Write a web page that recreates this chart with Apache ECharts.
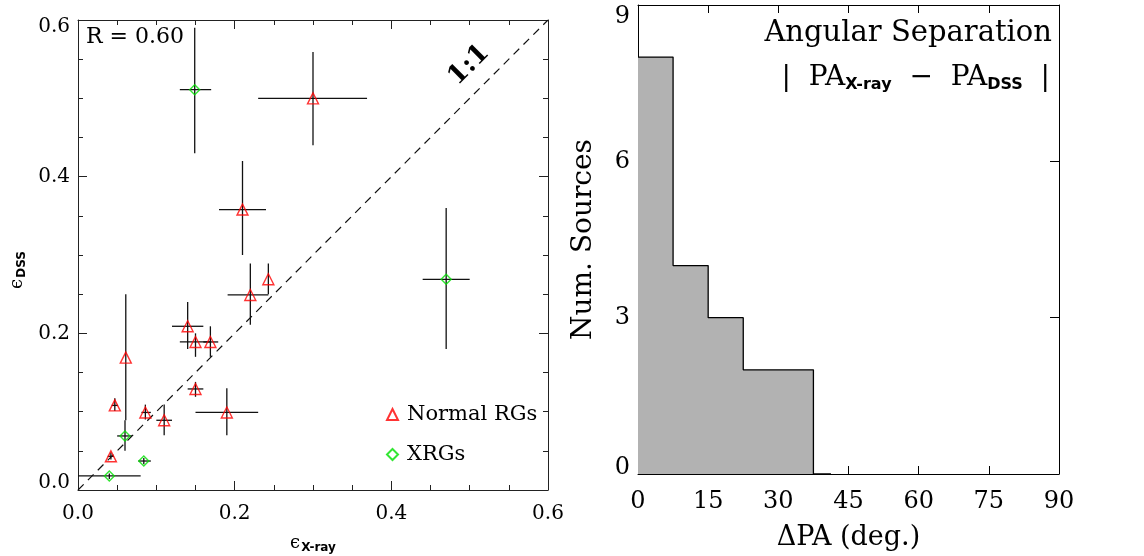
<!DOCTYPE html>
<html>
<head>
<meta charset="utf-8">
<title>Ellipticity and position angle</title>
<script src="https://cdn.jsdelivr.net/npm/echarts@6/dist/echarts.min.js"></script>
<style>
    html, body { margin: 0; padding: 0; background: #fff; }
    #chart { width: 1144px; height: 556px; }
</style>
</head>
<body>
<div id="chart"></div>
<script>
// rows: eX, eDSS, xLo, xHi, yLo, yHi
var normalRGs = [
    [0.300, 0.500, 0.230, 0.369, 0.440, 0.559],
    [0.210, 0.358, 0.180, 0.240, 0.300, 0.420],
    [0.243, 0.269, 0.243, 0.243, 0.250, 0.289],
    [0.220, 0.249, 0.191, 0.243, 0.211, 0.289],
    [0.140, 0.209, 0.120, 0.160, 0.180, 0.240],
    [0.150, 0.189, 0.130, 0.170, 0.170, 0.200],
    [0.169, 0.189, 0.160, 0.179, 0.170, 0.209],
    [0.150, 0.129, 0.140, 0.160, 0.119, 0.138],
    [0.190, 0.099, 0.150, 0.230, 0.070, 0.130],
    [0.110, 0.089, 0.100, 0.120, 0.070, 0.109],
    [0.086, 0.099, 0.081, 0.093, 0.090, 0.109],
    [0.047, 0.108, 0.043, 0.051, 0.101, 0.117],
    [0.061, 0.169, 0.061, 0.061, 0.089, 0.250],
    [0.042, 0.043, 0.038, 0.046, 0.039, 0.048]
]
var xrgs = [
    [0.149, 0.511, 0.130, 0.170, 0.430, 0.590],
    [0.470, 0.269, 0.440, 0.500, 0.180, 0.360],
    [0.060, 0.069, 0.050, 0.069, 0.050, 0.089],
    [0.084, 0.037, 0.077, 0.093, 0.033, 0.041],
    [0.040, 0.018, 0.000, 0.080, 0.014, 0.021]
]
var oneToOne = [[0, 0], [0.6, 0.6]]

// histogram of |PA_X-ray - PA_DSS|, bins start at these edges
var paBinStart = [0, 7.5, 15, 22.5, 30, 37.5, 41.25]
var paCounts = [8, 4, 3, 2, 2, 0, 0]

var serif = 'DejaVu Serif'
var chart = echarts.init(document.getElementById('chart'))

var errorBars = function(rows) {
    return {
        type: 'custom',
        xAxisIndex: 0,
        yAxisIndex: 0,
        silent: true,
        z: 2,
        data: rows,
        encode: {x: 0, y: 1},
        renderItem: function(params, api) {
            var xl = api.coord([api.value(2), api.value(1)])
            var xh = api.coord([api.value(3), api.value(1)])
            var yl = api.coord([api.value(0), api.value(4)])
            var yh = api.coord([api.value(0), api.value(5)])
            var st = {stroke: '#111', lineWidth: 1.3}
            return {
                type: 'group',
                children: [
                    {type: 'line', shape: {x1: xl[0], y1: xl[1], x2: xh[0], y2: xh[1]}, style: st},
                    {type: 'line', shape: {x1: yl[0], y1: yl[1], x2: yh[0], y2: yh[1]}, style: st}
                ]
            }
        }
    }
}

// shifts the end labels inward, like the original plot
var edgeLabels = function(min, max, fmt) {
    return function(v) {
        var s = fmt(v)
        if (v === max) return '{hi|' + s + '}'
        if (v === min) return '{lo|' + s + '}'
        return s
    }
}

var eFmt = function(v) { return v.toFixed(1) }
var intFmt = function(v) { return String(Math.round(v)) }

var leftX = function(pos, show) {
    return {
        type: 'value', gridIndex: 0, position: pos, min: 0, max: 0.6, interval: 0.2,
        axisLine: {onZero: false, lineStyle: {color: '#222', width: 1}},
        axisTick: {inside: true, length: 9, lineStyle: {color: '#222'}},
        minorTick: {show: true, splitNumber: 4, length: 5, lineStyle: {color: '#222'}},
        splitLine: {show: false},
        axisLabel: {show: show, formatter: eFmt, margin: 14, color: '#000', fontFamily: serif, fontSize: 20}
    }
}
var leftY = function(pos, show) {
    return {
        type: 'value', gridIndex: 0, position: pos, min: 0, max: 0.6, interval: 0.2,
        axisLine: {onZero: false, lineStyle: {color: '#222', width: 1}},
        axisTick: {inside: true, length: 9, lineStyle: {color: '#222'}},
        minorTick: {show: true, splitNumber: 4, length: 5, lineStyle: {color: '#222'}},
        splitLine: {show: false},
        axisLabel: {
            show: show, margin: 8, color: '#000', fontFamily: serif, fontSize: 20,
            formatter: edgeLabels(0, 0.6, eFmt),
            rich: {
                hi: {fontFamily: serif, fontSize: 20, padding: [14, 0, 0, 0]},
                lo: {fontFamily: serif, fontSize: 20, padding: [0, 0, 14, 0]}
            }
        }
    }
}
var rightX = function(pos, show) {
    return {
        type: 'value', gridIndex: 1, position: pos, min: 0, max: 90, interval: 15,
        axisLine: {onZero: false, lineStyle: {color: '#000', width: 1}},
        axisTick: {inside: true, length: 8, lineStyle: {color: '#000'}},
        splitLine: {show: false},
        axisLabel: {show: show, formatter: intFmt, margin: 16, color: '#000', fontFamily: serif, fontSize: 24}
    }
}
var rightY = function(pos, show) {
    return {
        type: 'value', gridIndex: 1, position: pos, min: 0, max: 9, interval: 3,
        axisLine: {onZero: false, lineStyle: {color: '#000', width: 1}},
        axisTick: {show: !show, inside: true, length: 9, lineStyle: {color: '#000'}},
        splitLine: {show: false},
        axisLabel: {
            show: show, margin: 8, color: '#000', fontFamily: serif, fontSize: 24,
            formatter: edgeLabels(0, 9, intFmt),
            rich: {
                hi: {fontFamily: serif, fontSize: 24, padding: [24, 0, 0, 0]},
                lo: {fontFamily: serif, fontSize: 24, padding: [0, 0, 12, 0]}
            }
        }
    }
}

var xBottom2 = rightX('bottom', true)
xBottom2.name = 'ΔPA (deg.)'
xBottom2.nameLocation = 'middle'
xBottom2.nameGap = 50
xBottom2.nameTextStyle = {color: '#000', fontFamily: serif, fontSize: 27}

var yLeft2 = rightY('left', true)
yLeft2.name = 'Num. Sources'
yLeft2.nameLocation = 'middle'
yLeft2.nameRotate = 90
yLeft2.nameGap = 40
yLeft2.nameTextStyle = {color: '#000', fontFamily: serif, fontSize: 28}

var option = {
    animation: false,
    backgroundColor: '#fff',
    grid: [
        {left: 78, top: 20, width: 470, height: 470},
        {left: 638, top: 5, width: 421, height: 469}
    ],
    xAxis: [leftX('bottom', true), leftX('top', false), xBottom2, rightX('top', false)],
    yAxis: [leftY('left', true), leftY('right', false), yLeft2, rightY('right', false)],
    legend: {
        orient: 'vertical',
        left: 381,
        top: 399,
        itemWidth: 11,
        itemHeight: 11,
        itemGap: 19,
        data: ['Normal RGs', 'XRGs'],
        textStyle: {color: '#000', fontFamily: serif, fontSize: 21, lineHeight: 20, padding: [0, 0, 0, 4]}
    },
    graphic: [
        {type: 'text', x: 86, y: 37, style: {text: 'R = 0.60', fill: '#000', font: '22px "DejaVu Serif"', verticalAlign: 'middle'}},
        {type: 'text', x: 469, y: 65, rotation: Math.PI / 4,
            style: {text: '1:1', fill: '#000', font: 'bold 26px "DejaVu Serif"', align: 'center', verticalAlign: 'middle'}},
        {type: 'text', x: 17, y: 270, rotation: Math.PI / 2,
            style: {
                text: '{e|ϵ}{s|DSS}', align: 'center', verticalAlign: 'middle',
                rich: {
                    e: {fill: '#000', fontFamily: serif, fontSize: 18},
                    s: {fill: '#000', fontFamily: 'DejaVu Sans', fontWeight: 'bold', fontSize: 12, padding: [9, 0, 0, 1]}
                }
            }},
        {type: 'text', x: 313, y: 543,
            style: {
                text: '{e|ϵ}{s|X-ray}', align: 'center', verticalAlign: 'middle',
                rich: {
                    e: {fill: '#000', fontFamily: serif, fontSize: 18},
                    s: {fill: '#000', fontFamily: 'DejaVu Sans', fontWeight: 'bold', fontSize: 12, padding: [9, 0, 0, 1]}
                }
            }},
        {type: 'text', x: 1052, y: 33,
            style: {text: 'Angular Separation', fill: '#000', font: '29px "DejaVu Serif"', align: 'right', verticalAlign: 'middle'}},
        {type: 'text', x: 1050, y: 78,
            style: {
                text: '{n||  PA}{s|X-ray}{n|  −  PA}{s|DSS}{n|  |}', align: 'right', verticalAlign: 'middle',
                rich: {
                    n: {fill: '#000', fontFamily: serif, fontSize: 28},
                    s: {fill: '#000', fontFamily: 'DejaVu Sans', fontWeight: 'bold', fontSize: 16, padding: [14, 0, 0, 0]}
                }
            }}
    ],
    series: [
        {
            type: 'line', xAxisIndex: 0, yAxisIndex: 0, data: oneToOne,
            symbol: 'none', silent: true, z: 1,
            lineStyle: {color: '#111', width: 1.2, type: [8, 6]}
        },
        errorBars(normalRGs),
        errorBars(xrgs),
        {
            name: 'Normal RGs', type: 'scatter', xAxisIndex: 0, yAxisIndex: 0, z: 4,
            data: normalRGs.map(function(r) { return [r[0], r[1]] }),
            symbol: 'triangle', symbolSize: 11,
            itemStyle: {color: 'transparent', borderColor: '#ff0000', borderWidth: 1.4}
        },
        {
            name: 'XRGs', type: 'scatter', xAxisIndex: 0, yAxisIndex: 0, z: 4,
            data: xrgs.map(function(r) { return [r[0], r[1]] }),
            symbol: 'diamond', symbolSize: 10,
            itemStyle: {color: 'transparent', borderColor: '#00e000', borderWidth: 1.4}
        },
        {
            type: 'line', xAxisIndex: 2, yAxisIndex: 2, step: 'end',
            data: paBinStart.map(function(x, i) { return [x, paCounts[i]] }),
            symbol: 'none', silent: true,
            lineStyle: {color: '#000', width: 1.3},
            areaStyle: {color: '#b2b2b2', opacity: 1}
        }
    ]
}

chart.setOption(option)
</script>
</body>
</html>
